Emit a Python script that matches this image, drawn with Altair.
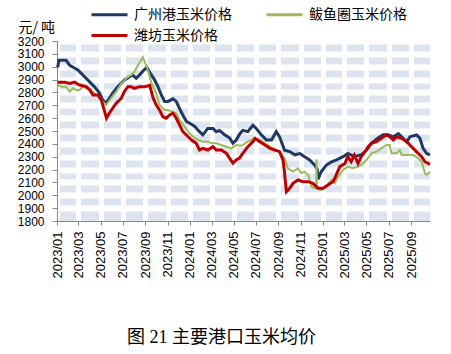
import altair as alt
import pandas as pd

series_names = ["广州港玉米价格", "鲅鱼圈玉米价格", "潍坊玉米价格"]
series_colors = ["#1F3864", "#9BBB59", "#C00000"]
series_widths = [3, 2, 3]
legend_order = ["广州港玉米价格", "潍坊玉米价格", "鲅鱼圈玉米价格"]
legend_colors = ["#1F3864", "#C00000", "#9BBB59"]

gz_dates = ["2023-01-03", "2023-01-06", "2023-01-26", "2023-02-05", "2023-02-18", "2023-02-27", "2023-03-08",
            "2023-03-22", "2023-04-05", "2023-04-14", "2023-04-28", "2023-05-07", "2023-05-16", "2023-05-25",
            "2023-06-03", "2023-06-17", "2023-07-05", "2023-07-19", "2023-07-28", "2023-08-07", "2023-08-16",
            "2023-08-25", "2023-09-05", "2023-09-12", "2023-09-26", "2023-10-05", "2023-10-15", "2023-10-24",
            "2023-11-02", "2023-11-16", "2023-11-25", "2023-12-04", "2023-12-13", "2023-12-23", "2024-01-01",
            "2024-01-15", "2024-01-28", "2024-02-06", "2024-02-20", "2024-03-05", "2024-03-14", "2024-03-23",
            "2024-04-06", "2024-04-20", "2024-04-29", "2024-05-08", "2024-05-17", "2024-05-26", "2024-06-09",
            "2024-06-23", "2024-07-02", "2024-07-16", "2024-07-30", "2024-08-13", "2024-08-26", "2024-09-04",
            "2024-09-18", "2024-10-02", "2024-10-16", "2024-10-30", "2024-11-12", "2024-11-26", "2024-12-10",
            "2024-12-17", "2024-12-19", "2024-12-28", "2025-01-11", "2025-01-25", "2025-02-08", "2025-02-26",
            "2025-03-11", "2025-03-29", "2025-04-17", "2025-05-01", "2025-05-15", "2025-06-02", "2025-06-16",
            "2025-06-30", "2025-07-14", "2025-07-28", "2025-08-06", "2025-08-20", "2025-08-29", "2025-09-16",
            "2025-09-25", "2025-10-04", "2025-10-14", "2025-10-23"]
gz_values = [2995, 3050, 3050, 3010, 2990, 2975, 2950,
             2910, 2870, 2845, 2795, 2740, 2715, 2755,
             2795, 2845, 2895, 2920, 2935, 2910, 2935,
             2965, 2995, 2960, 2900, 2850, 2780, 2730,
             2730, 2750, 2730, 2675, 2625, 2575, 2560,
             2535, 2495, 2470, 2520, 2520, 2495, 2505,
             2470, 2445, 2405, 2430, 2475, 2505, 2495,
             2545, 2520, 2470, 2430, 2430, 2495, 2455,
             2350, 2340, 2315, 2325, 2300, 2275, 2235,
             2200, 2125, 2185, 2235, 2260, 2275, 2300,
             2325, 2300, 2315, 2350, 2405, 2445, 2470,
             2470, 2455, 2480, 2455, 2415, 2455, 2470,
             2445, 2365, 2325, 2315]

byq_dates = ["2023-01-03", "2023-01-13", "2023-01-26", "2023-02-05", "2023-02-14", "2023-02-23", "2023-03-04",
             "2023-03-13", "2023-03-27", "2023-04-10", "2023-04-19", "2023-04-28", "2023-05-07", "2023-05-16",
             "2023-05-30", "2023-06-13", "2023-06-27", "2023-07-11", "2023-07-24", "2023-08-02", "2023-08-12",
             "2023-08-21", "2023-08-25", "2023-09-03", "2023-09-08", "2023-09-18", "2023-10-01", "2023-10-10",
             "2023-10-24", "2023-11-02", "2023-11-12", "2023-11-25", "2023-12-04", "2023-12-18", "2023-12-27",
             "2024-01-10", "2024-01-24", "2024-02-06", "2024-02-20", "2024-03-01", "2024-03-14", "2024-03-28",
             "2024-04-11", "2024-04-25", "2024-05-08", "2024-05-22", "2024-06-09", "2024-06-27", "2024-07-12",
             "2024-07-26", "2024-08-09", "2024-08-22", "2024-09-04", "2024-09-18", "2024-09-27", "2024-10-11",
             "2024-10-25", "2024-11-03", "2024-11-12", "2024-11-22", "2024-12-01", "2024-12-10", "2024-12-14",
             "2024-12-15", "2024-12-16", "2024-12-28", "2025-01-11", "2025-01-25", "2025-02-03", "2025-02-12",
             "2025-02-26", "2025-03-11", "2025-03-25", "2025-04-08", "2025-04-22", "2025-05-01", "2025-05-15",
             "2025-05-29", "2025-06-11", "2025-06-25", "2025-07-04", "2025-07-09", "2025-07-23", "2025-08-01",
             "2025-08-06", "2025-08-24", "2025-09-07", "2025-09-21", "2025-09-30", "2025-10-09", "2025-10-14",
             "2025-10-23"]
byq_values = [2858, 2845, 2845, 2806, 2832, 2819, 2819,
              2845, 2832, 2806, 2780, 2767, 2728, 2702,
              2755, 2806, 2871, 2910, 2935, 2961, 3013,
              3052, 3075, 3013, 2975, 2871, 2793, 2702,
              2664, 2664, 2650, 2638, 2586, 2534, 2495,
              2456, 2430, 2417, 2417, 2404, 2404, 2391,
              2378, 2365, 2391, 2385, 2417, 2443, 2430,
              2404, 2378, 2352, 2339, 2287, 2210, 2184,
              2210, 2171, 2184, 2158, 2067, 2054, 2060,
              2280, 2054, 2041, 2067, 2119, 2093, 2145,
              2197, 2223, 2210, 2223, 2248, 2274, 2326,
              2339, 2365, 2391, 2391, 2326, 2326, 2352,
              2313, 2313, 2313, 2287, 2261, 2171, 2158,
              2184]

wf_dates = ["2023-01-03", "2023-01-22", "2023-02-05", "2023-02-18", "2023-03-04", "2023-03-22", "2023-04-01",
            "2023-04-10", "2023-04-23", "2023-05-03", "2023-05-12", "2023-05-17", "2023-05-25", "2023-06-03",
            "2023-06-13", "2023-06-27", "2023-07-05", "2023-07-15", "2023-07-24", "2023-08-02", "2023-08-16",
            "2023-08-30", "2023-09-13", "2023-09-22", "2023-10-01", "2023-10-10", "2023-10-19", "2023-10-28",
            "2023-11-07", "2023-11-16", "2023-11-25", "2023-12-04", "2023-12-13", "2023-12-23", "2024-01-06",
            "2024-01-19", "2024-01-28", "2024-02-06", "2024-02-20", "2024-03-05", "2024-03-14", "2024-03-28",
            "2024-04-11", "2024-04-20", "2024-04-29", "2024-05-08", "2024-05-17", "2024-05-26", "2024-06-09",
            "2024-06-23", "2024-06-29", "2024-07-12", "2024-07-26", "2024-08-09", "2024-08-22", "2024-09-04",
            "2024-09-14", "2024-09-18", "2024-09-23", "2024-10-02", "2024-10-11", "2024-10-25", "2024-11-08",
            "2024-11-22", "2024-12-05", "2024-12-19", "2025-01-02", "2025-01-15", "2025-01-29", "2025-02-03",
            "2025-02-17", "2025-03-03", "2025-03-11", "2025-03-20", "2025-03-29", "2025-04-08", "2025-04-17",
            "2025-04-27", "2025-05-06", "2025-05-15", "2025-05-29", "2025-06-11", "2025-06-25", "2025-07-04",
            "2025-07-14", "2025-07-23", "2025-08-06", "2025-08-20", "2025-09-02", "2025-09-16", "2025-09-30",
            "2025-10-09", "2025-10-23"]
wf_values = [2880, 2880, 2870, 2880, 2858, 2845, 2820,
             2780, 2780, 2740, 2650, 2600, 2638, 2677,
             2716, 2755, 2806, 2845, 2845, 2832, 2845,
             2845, 2855, 2760, 2702, 2664, 2612, 2599,
             2625, 2638, 2599, 2547, 2495, 2469, 2430,
             2404, 2352, 2365, 2352, 2378, 2352, 2352,
             2326, 2287, 2250, 2275, 2290, 2326, 2378,
             2417, 2443, 2417, 2391, 2365, 2352, 2339,
             2274, 2171, 2028, 2054, 2093, 2119, 2106,
             2106, 2093, 2054, 2054, 2080, 2106, 2132,
             2223, 2248, 2300, 2261, 2313, 2248, 2300,
             2339, 2378, 2404, 2417, 2443, 2469, 2456,
             2430, 2456, 2443, 2417, 2378, 2339, 2300,
             2261, 2240]

x_tick_labels = ["2023/01", "2023/03", "2023/05", "2023/07", "2023/09", "2023/11",
                 "2024/01", "2024/03", "2024/05", "2024/07", "2024/09", "2024/11",
                 "2025/01", "2025/03", "2025/05", "2025/07", "2025/09"]
y_ticks = [1800, 1900, 2000, 2100, 2200, 2300, 2400, 2500, 2600, 2700,
           2800, 2900, 3000, 3100, 3200]

rows = []
for name, ds, vs in zip(series_names, [gz_dates, byq_dates, wf_dates], [gz_values, byq_values, wf_values]):
    for d, v in zip(ds, vs):
        rows.append({"series": name, "date": d, "price": v})
df = pd.DataFrame(rows)
df["date"] = pd.to_datetime(df["date"])

x_vals = [alt.DateTime(year=int(s[:4]), month=int(s[5:]), date=1) for s in x_tick_labels]

base = alt.Chart(df).encode(
    x=alt.X(
        "date:T",
        scale=alt.Scale(domain=[alt.DateTime(year=2023, month=1, date=1),
                                alt.DateTime(year=2025, month=10, date=23)], nice=False),
        axis=alt.Axis(values=x_vals, format="%Y/%m", labelAngle=-90, title=None,
                      labelFont="Liberation Sans", labelFontSize=13, labelColor="#000",
                      tickSize=4, labelPadding=6, domainColor="#888888", tickColor="#888888",
                      grid=True, gridColor="white", gridWidth=5, labelFlush=False, labelOverlap=False),
    ),
    y=alt.Y(
        "price:Q",
        scale=alt.Scale(domain=[1800, 3200], nice=False, zero=False),
        axis=alt.Axis(values=y_ticks, format="d", title="元/ 吨", titleAngle=0, titleX=-39, titleY=-10,
                      titleAlign="left", titleBaseline="alphabetic", titleFont="Noto Sans CJK SC",
                      titleFontSize=14, titleFontWeight="normal", titleColor="#000",
                      labelFont="Liberation Sans", labelFontSize=12, labelColor="#000",
                      tickSize=5, labelPadding=8, domainColor="#888888", tickColor="#888888",
                      grid=True, gridColor="white", gridWidth=6,
                      gridOpacity={"condition": {"test": "datum.value === 1800", "value": 0}, "value": 1},
                      labelFlush=False, labelOverlap=False),
    ),
    color=alt.Color(
        "series:N",
        scale=alt.Scale(domain=legend_order, range=legend_colors),
        legend=alt.Legend(orient="none", legendX=45, legendY=-34, columns=2, title=None,
                          symbolType="M-3,0H3", symbolSize=144, symbolStrokeWidth=3,
                          labelFont="Noto Sans CJK SC", labelFontSize=14, labelColor="#000",
                          labelOffset=17, columnPadding=28, rowPadding=6, padding=0, labelLimit=300),
    ),
)

layers = [
    base.transform_filter(alt.datum.series == n).mark_line(strokeWidth=w)
    for n, w in zip(series_names, series_widths)
]

chart = alt.layer(*layers).properties(
    width=373,
    height=180,
    background="white",
    autosize=alt.AutoSizeParams(type="none"),
    padding={"left": 57, "top": 41, "right": 21, "bottom": 133},
    title=alt.TitleParams(text="图 21 主要港口玉米均价", orient="bottom", anchor="middle",
                          offset=51, dx=-22, font="Liberation Serif, Noto Sans CJK SC", fontSize=18,
                          fontWeight="normal", color="#000"),
).configure_view(stroke=None, fill="#DCE4F0")

chart.save("out.html", embed_options={"renderer": "svg", "actions": False})
